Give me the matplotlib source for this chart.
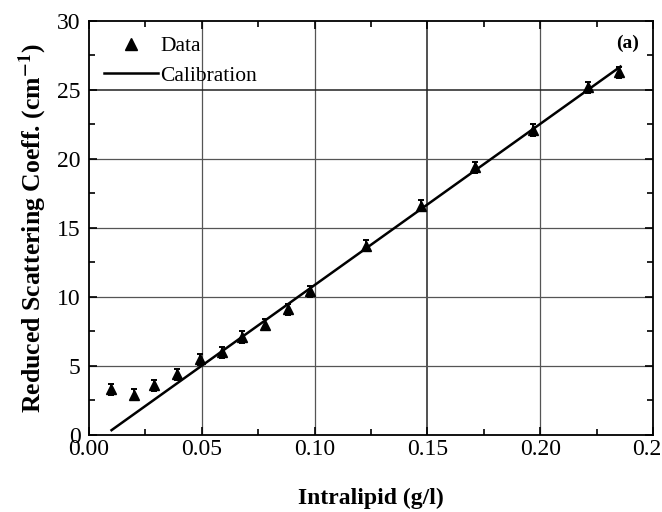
import numpy as np
import matplotlib
matplotlib.use('Agg')
import matplotlib.pyplot as plt
from matplotlib.ticker import MultipleLocator
from matplotlib.lines import Line2D

# measured points
conc = [0.0098, 0.020, 0.029, 0.039, 0.049, 0.059, 0.068, 0.078, 0.088, 0.098,
        0.123, 0.147, 0.171, 0.197, 0.221, 0.235]
mus = [3.3, 2.9, 3.6, 4.4, 5.5, 6.0, 7.1, 8.0, 9.1, 10.4,
       13.7, 16.6, 19.4, 22.1, 25.2, 26.3]
err = [0.4] * len(conc)

# calibration line end points
cal_x = [0.010, 0.2356]
cal_y = [0.35, 26.7]

plt.rcParams['font.family'] = ['Liberation Serif', 'DejaVu Serif']
plt.rcParams['mathtext.fontset'] = 'stix'

fig = plt.figure(figsize=(6.62, 5.12), dpi=100)
ax = fig.add_axes([0.1344, 0.1504, 0.852, 0.8086])

ax.errorbar(conc, mus, yerr=err, fmt='^', color='black', ms=7.5, capsize=2.5,
            elinewidth=1.4, capthick=1.4, zorder=3)
ax.plot(cal_x, cal_y, color='black', lw=1.8, zorder=3)

ax.set_xlim(0, 0.25)
ax.set_ylim(0, 30)
ax.xaxis.set_minor_locator(MultipleLocator(0.025))
ax.yaxis.set_major_locator(MultipleLocator(5))
ax.yaxis.set_minor_locator(MultipleLocator(2.5))
ax.set_xticks([0, 0.05, 0.10, 0.15, 0.20, 0.25])
ax.set_xticklabels(['0.00', '0.05', '0.10', '0.15', '0.20', '0.25'])

ax.tick_params(which='both', direction='in', top=True, right=True,
               labelsize=17, width=1.2)
ax.tick_params(which='major', length=6, pad=6)
ax.tick_params(which='minor', length=4)
ax.tick_params(axis='x', pad=3)

for x in [0.05, 0.10, 0.20]:
    ax.axvline(x, color='#555555', lw=0.9, zorder=1)
ax.axvline(0.15, color='#222222', lw=1.1, zorder=1)
for y in [5, 10, 15, 20]:
    ax.axhline(y, color='#555555', lw=0.9, zorder=1)
ax.axhline(25, color='#222222', lw=1.1, zorder=1)

for s in ax.spines.values():
    s.set_linewidth(1.3)

ax.set_xlabel('Intralipid (g/l)', fontsize=17, fontweight='bold', labelpad=20)
ax.set_ylabel('Reduced Scattering Coeff. (cm$^{\\mathbf{-1}}$)', fontsize=18.5,
              fontweight='bold', labelpad=6)

ax.text(0.975, 0.945, '(a)', transform=ax.transAxes, ha='right', va='center',
        fontsize=14, fontweight='bold')

handles = [Line2D([], [], ls='none', marker='^', color='black', ms=8),
           Line2D([], [], color='black', lw=1.8)]
ax.legend(handles, ['Data', 'Calibration'], loc='upper left', frameon=False,
          fontsize=15.5, handlelength=2.5, borderaxespad=0.4,
          handletextpad=0.1, labelspacing=0.45, borderpad=0.3)

fig.savefig('out.png', dpi=100)
